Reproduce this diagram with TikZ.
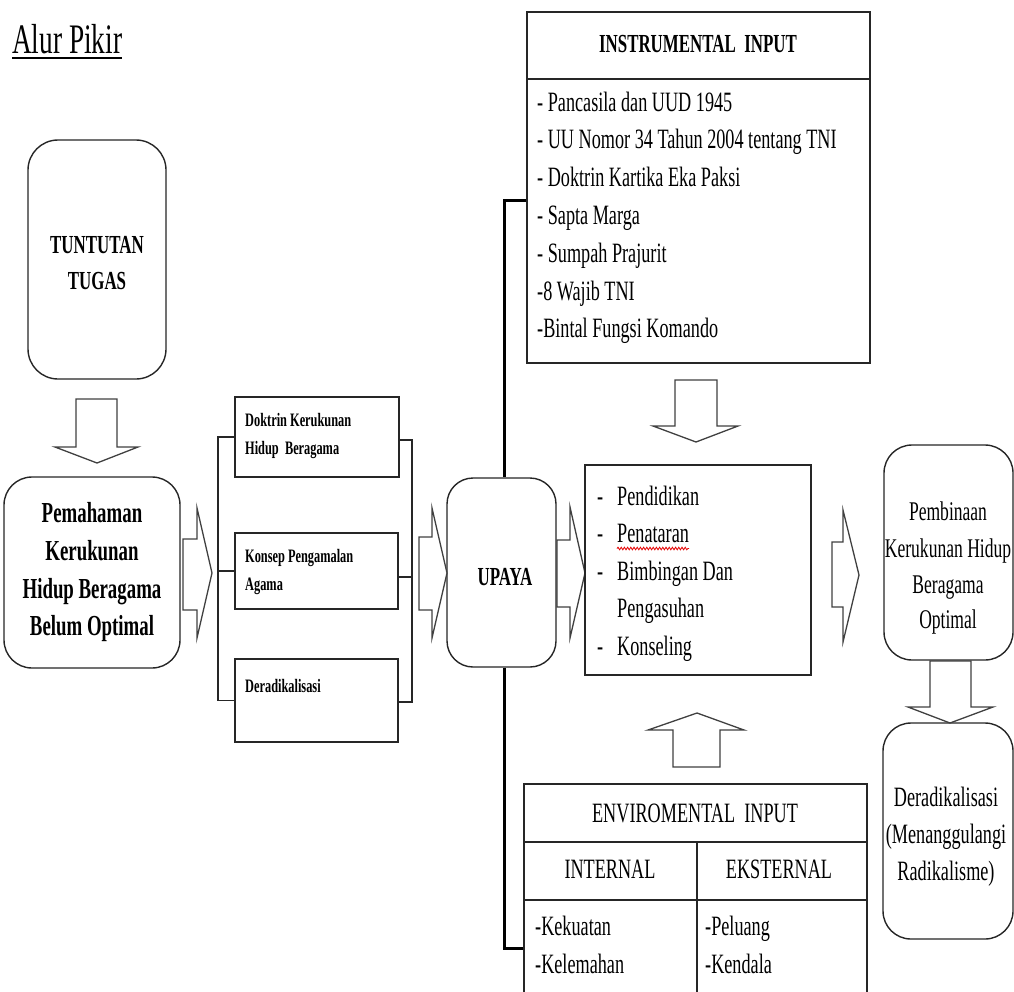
\documentclass[tikz,border=0pt]{standalone}
\usepackage{fontspec}
\setmainfont[FakeStretch=0.65]{Liberation Serif}
\usetikzlibrary{decorations.pathmorphing}
\newcommand\fsz[1]{\fontsize{#1}{#1}\selectfont}
\begin{document}
\begin{tikzpicture}[x=1pt,y=-1pt,
  box/.style={draw=black!85, line width=1.4pt, inner sep=0pt, fill=white},
  rbox/.style={box, rounded corners=26pt},
  barrow/.style={draw=black!75, line width=1.3pt, fill=white, line join=miter},
  brk/.style={draw=black!85, line width=1.8pt},
  spine/.style={draw=black, line width=3pt},
  tc/.style={inner sep=0pt, anchor=base},
  tl/.style={inner sep=0pt, anchor=base west},
  bigb/.style={font=\bfseries\fsz{26}},
  smallb/.style={font=\bfseries\fsz{19}},
  reg/.style={font=\fsz{27}},
  item/.style={font=\fsz{28}},
]
\useasboundingbox (0,0) rectangle (1014,991);
\clip (0,0) rectangle (1014,991);

% title
\node[tl, font=\fsz{42}] (title) at (12,53) {Alur Pikir};
\draw[line width=1.6pt] ([yshift=-5pt]title.base west) -- ([yshift=-5pt]title.base east);

% boxes touched by the spine
\node[box, minimum width=343pt, minimum height=351pt] (ins) at (698.5,187.5) {};
\node[rbox, minimum width=109pt, minimum height=189pt] (upaya) at (501.5,572.5) {};
\node[box, minimum width=343pt, minimum height=226pt] (env) at (695.5,897) {};
\draw[spine] ([yshift=-12.5pt]ins.west) -| ([xshift=3pt]upaya.north);
\draw[spine] ([xshift=3pt]upaya.south) |- ([yshift=-51pt]env.west);

% left column
\node[rbox, minimum width=138pt, minimum height=239pt, rounded corners=30pt] (tun) at (97,259.5) {};
\node[tc, bigb] (tun1) at (97,253) {TUNTUTAN};
\node[tc, bigb] (tun2) at (97,289) {TUGAS};

\node[rbox, minimum width=176pt, minimum height=191pt, rounded corners=28pt] (pem) at (92,572.5) {};
\node[tc, font=\bfseries\fsz{29}] (pem1) at (92,522) {Pemahaman};
\node[tc, font=\bfseries\fsz{29}] (pem2) at (92,560) {Kerukunan};
\node[tc, font=\bfseries\fsz{29}] (pem3) at (92,598) {Hidup Beragama};
\node[tc, font=\bfseries\fsz{29}] (pem4) at (92,635) {Belum Optimal};

\draw[barrow] (76,399) -- (117,399) -- (117,447) -- (138,447) -- (97,463) -- (55,447) -- (76,447) -- cycle;
\draw[barrow] (183,539) -- (197,539) -- (197,508) -- (212,573) -- (197,638) -- (197,610) -- (183,610) -- cycle;

% three boxes
\node[box, minimum width=164pt, minimum height=80pt] (d1) at (317,437) {};
\node[box, minimum width=163pt, minimum height=76pt] (d2) at (316.5,571) {};
\node[box, minimum width=163pt, minimum height=83pt] (d3) at (316.5,700.5) {};
\node[tl, smallb] (d1a) at (245,426) {Doktrin Kerukunan};
\node[tl, smallb] (d1b) at (245,454) {Hidup\ \ Beragama};
\node[tl, smallb] (d2a) at (245,562) {Konsep Pengamalan};
\node[tl, smallb] (d2b) at (245,590) {Agama};
\node[tl, smallb] (d3a) at (245,692) {Deradikalisasi};

\draw[brk] (d1.west) -- ++(-16,0) |- (d3.west);
\draw[brk] (d2.west) -- ++(-16,0);
\draw[brk] ([yshift=-3pt]d1.east) -- ++(12,0) |- ([yshift=-1.5pt]d3.east);
\draw[brk] ([yshift=-6pt]d2.east) -- ++(13,0);

\draw[barrow] (419,537) -- (432,537) -- (432,508) -- (447,573) -- (432,638) -- (432,610) -- (419,610) -- cycle;

% UPAYA text
\node[tc, bigb] (upt) at (505,585) {UPAYA};
\draw[barrow] (557,540) -- (570,540) -- (570,507) -- (585,573) -- (570,638) -- (570,607) -- (557,607) -- cycle;

% instrumental input
\draw[line width=1.4pt, black!85] (ins.west |- 0,79) -- (ins.east |- 0,79);
\node[tc, bigb] (inst) at (698,52) {INSTRUMENTAL\ \ INPUT};
\node[tl, item] (i1) at (537,111) {- Pancasila dan UUD 1945};
\node[tl, item] (i2) at (537,148.8) {- UU Nomor 34 Tahun 2004 tentang TNI};
\node[tl, item] (i3) at (537,186.6) {- Doktrin Kartika Eka Paksi};
\node[tl, item] (i4) at (537,224.4) {- Sapta Marga};
\node[tl, item] (i5) at (537,262.2) {- Sumpah Prajurit};
\node[tl, item] (i6) at (537,300) {-8 Wajib TNI};
\node[tl, item] (i7) at (537,337.8) {-Bintal Fungsi Komando};

\draw[barrow] (675,380) -- (717,380) -- (717,426) -- (738,426) -- (696,442) -- (653,426) -- (675,426) -- cycle;

% middle box
\node[box, minimum width=226pt, minimum height=210pt] (mid) at (698,570) {};
\foreach \y [count=\k] in {505, 542.5, 580, 655}{
  \node[tl, font=\fsz{28}] (b\k) at (597,\y) {-};
}
\node[tl, font=\fsz{28}] (m1) at (617,505) {Pendidikan};
\node[tl, font=\fsz{28}] (m2) at (617,542.5) {Penataran};
\node[tl, font=\fsz{28}] (m3) at (617,580) {Bimbingan Dan};
\node[tl, font=\fsz{28}] (m4) at (617,617.5) {Pengasuhan};
\node[tl, font=\fsz{28}] (m5) at (617,655) {Konseling};
\draw[red!90!black, line width=0.8pt, decorate, decoration={snake, amplitude=1.3pt, segment length=3.2pt}]
  ([yshift=-6pt]m2.base west) -- ([yshift=-6pt]m2.base east);

\draw[barrow] (832,542) -- (843,542) -- (843,510) -- (859,575) -- (843,642) -- (843,607) -- (832,607) -- cycle;

% environmental input
\draw[line width=1.4pt, black!85] (env.west |- 0,842) -- (env.east |- 0,842);
\draw[line width=1.4pt, black!85] (env.west |- 0,900) -- (env.east |- 0,900);
\draw[line width=1.4pt, black!85] (697,842) -- (697,1012);
\node[tc, font=\fsz{28}] (envt) at (695,822) {ENVIROMENTAL\ \ INPUT};
\node[tc, font=\fsz{28}] (int) at (610,878) {INTERNAL};
\node[tc, font=\fsz{28}] (eks) at (779,878) {EKSTERNAL};
\node[tl, font=\fsz{28}] (e1) at (535,935) {-Kekuatan};
\node[tl, font=\fsz{28}] (e2) at (535,973) {-Kelemahan};
\node[tl, font=\fsz{28}] (e3) at (705,935) {-Peluang};
\node[tl, font=\fsz{28}] (e4) at (705,973) {-Kendala};

\draw[barrow] (673,767) -- (720,767) -- (720,730) -- (744,730) -- (697,713) -- (648,730) -- (673,730) -- cycle;

% right column
\node[rbox, minimum width=129pt, minimum height=215pt, rounded corners=28pt] (pemb) at (948.5,552.5) {};
\node[tc, reg] (p1) at (948,520) {Pembinaan};
\node[tc, reg] (p2) at (948,557) {Kerukunan Hidup};
\node[tc, reg] (p3) at (948,593) {Beragama};
\node[tc, reg] (p4) at (948,628) {Optimal};

\node[rbox, minimum width=130pt, minimum height=216pt, rounded corners=28pt] (der) at (948,831) {};
\node[tc, font=\fsz{28}] (r1) at (946,806) {Deradikalisasi};
\node[tc, font=\fsz{28}] (r2) at (946,843) {(Menanggulangi};
\node[tc, font=\fsz{28}] (r3) at (946,880) {Radikalisme)};

\draw[barrow] (930,661) -- (971,661) -- (971,707) -- (993,707) -- (950,723) -- (908,707) -- (930,707) -- cycle;
\end{tikzpicture}
\end{document}
